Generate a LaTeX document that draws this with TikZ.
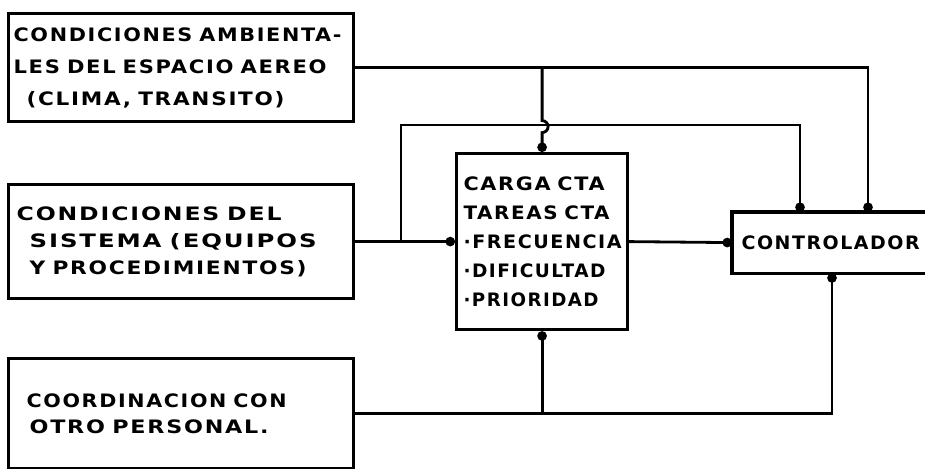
\documentclass[tikz,border=0pt]{standalone}
\usepackage{fontspec}
\setmainfont{DejaVu Sans}[LetterSpace=8]
\usepackage{graphicx}
\usetikzlibrary{arrows.meta}
\newcommand\fitw[2]{\resizebox{#1}{\height}{#2}}
\begin{document}
\begin{tikzpicture}[x=1pt,y=-1pt,
  box/.style={draw, line width=3.2pt, anchor=north west, inner xsep=0pt, inner ysep=0pt, align=left},
  boxtext/.style={font=\bfseries\fontsize{18.5}{#1}\selectfont},
  conn/.style={line width=2.8pt},
  dot/.style={-{Circle[length=9.5pt,width=9.5pt]}}]
\useasboundingbox[fill=white] (0,0) rectangle (925,468);

\node[box, boxtext=32, minimum width=345pt, minimum height=108pt, text width=345pt] (b1) at (7,12)
  {\hspace*{5pt}\fitw{328pt}{CONDICIONES AMBIENTA-}\\
   \hspace*{5pt}\fitw{313pt}{LES DEL ESPACIO AEREO}\\
   \hspace*{18pt}\fitw{258pt}{(CLIMA, TRANSITO)}};

\node[box, boxtext=27, minimum width=345pt, minimum height=114pt, text width=345pt] (b2) at (7,183)
  {\hspace*{8pt}\fitw{265pt}{CONDICIONES DEL}\\
   \hspace*{21pt}\fitw{287pt}{SISTEMA (EQUIPOS}\\
   \hspace*{21pt}\fitw{277pt}{Y PROCEDIMIENTOS)}};

\node[box, boxtext=26, minimum width=345pt, minimum height=110pt, text width=345pt] (b3) at (7,357)
  {\hspace*{18pt}\fitw{260pt}{COORDINACION CON}\\
   \hspace*{21pt}\fitw{239pt}{OTRO PERSONAL.}};

\node[box, boxtext=29, minimum width=171pt, minimum height=176pt, text width=171pt] (cb) at (455,152)
  {\hspace*{7pt}\fitw{141pt}{CARGA CTA}\\
   \hspace*{7pt}\fitw{146pt}{TAREAS CTA}\\
   \hspace*{7pt}\fitw{158pt}{·FRECUENCIA}\\
   \hspace*{7pt}\fitw{142pt}{·DIFICULTAD}\\
   \hspace*{7pt}\fitw{135pt}{·PRIORIDAD}};

\node[box, draw=none, boxtext=20, minimum width=200pt, minimum height=58pt, text width=200pt] (ctl) at (732,212)
  {\hspace*{8pt}\fitw{178pt}{CONTROLADOR}};
\draw[line width=3.2pt] (ctl.north east) -- (ctl.north west) -- (ctl.south west) -- (ctl.south east);

% box 1 to controller and to task box (with hop)
\draw[conn, dot] (b1.east) -| ([xshift=136pt]ctl.north west);
\draw[conn, dot] (b1.east -| cb.north) -- ++(0,53)
  arc[start angle=90, end angle=-90, radius=6pt] -- (cb.north);

% box 2 to task box and loop to controller
\draw[conn, dot] (b2.east) -- (cb.west);
\coordinate (j2) at (401,240);
\coordinate (k2) at (401,125);
\draw[conn, dot] (j2) -- (k2) -| ([xshift=68pt]ctl.north west);

% task box to controller
\draw[conn, dot] (cb.east) -- (ctl.west);

% box 3 to controller and task box
\draw[conn, dot] (b3.east) -| ([xshift=100pt]ctl.south west);
\draw[conn, dot] (b3.east -| cb.south) -- (cb.south);
\end{tikzpicture}
\end{document}
